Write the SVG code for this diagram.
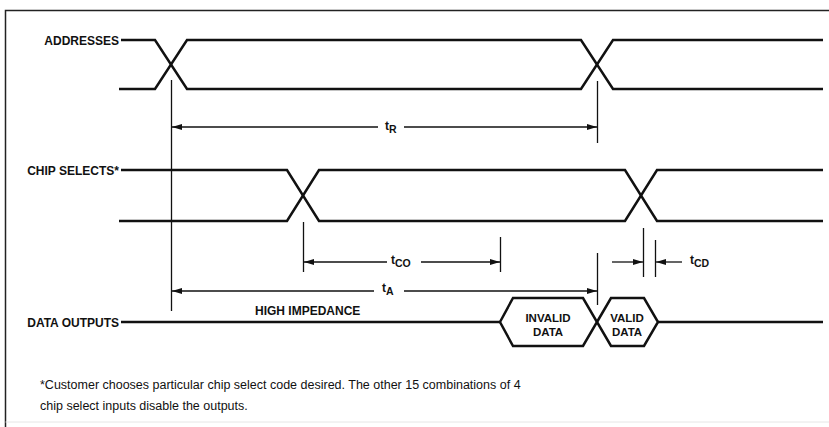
<svg xmlns="http://www.w3.org/2000/svg" width="829" height="427" viewBox="0 0 829 427">
<style>
.sig{fill:none;stroke:#111;stroke-width:2.5;stroke-linejoin:miter}
.dim{fill:none;stroke:#111;stroke-width:1.3}
.lbl{font-family:"Liberation Sans",Arial,sans-serif;font-weight:bold;font-size:12px;fill:#111}
.hx{font-family:"Liberation Sans",Arial,sans-serif;font-weight:bold;font-size:11.5px;fill:#111}
.t{font-family:"Liberation Sans",Arial,sans-serif;font-weight:bold;font-size:12px;fill:#111}
.sub{font-size:10.5px}
.note{font-family:"Liberation Sans",Arial,sans-serif;font-size:12.5px;fill:#111}
</style>
<defs>
<marker id="ah" viewBox="0 0 10 6" refX="10" refY="3" markerWidth="10" markerHeight="6" markerUnits="userSpaceOnUse" orient="auto-start-reverse">
<path d="M0,0 L10,3 L0,6 Z" fill="#111"/>
</marker>
</defs>
<rect width="829" height="427" fill="#fff"/>
<g id="frame">
<path d="M829,10.5 H5.5 V427" fill="none" stroke="#222" stroke-width="1.5"/>
<path d="M5.5,422 H829" fill="none" stroke="#e6e6e6" stroke-width="1"/>
</g>
<g id="addresses">
<text class="lbl" x="119" y="44.5" text-anchor="end">ADDRESSES</text>
<path class="sig" d="M121,40 H155 L187,89 H581 L613,40 H823"/>
<path class="sig" d="M119,89 H155 L187,40 H581 L613,89 H823"/>
</g>
<g id="chip-selects">
<text class="lbl" x="119" y="174.5" text-anchor="end">CHIP SELECTS*</text>
<path class="sig" d="M121,170 H287 L319,221 H625 L657,170 H823"/>
<path class="sig" d="M119,221 H287 L319,170 H625 L657,221 H823"/>
</g>
<g id="data-outputs">
<text class="lbl" x="119" y="326.5" text-anchor="end">DATA OUTPUTS</text>
<path class="sig" d="M121,322 H500"/>
<path class="sig" d="M500,322 L513,298 H583 L597,322 L583,346 H513 Z"/>
<path class="sig" d="M597,322 L611,298 H644 L658,322 L644,346 H611 Z"/>
<path class="sig" d="M658,322 H823"/>
<text class="hx" x="548" y="321.5" text-anchor="middle">INVALID</text>
<text class="hx" x="548" y="335.5" text-anchor="middle">DATA</text>
<text class="hx" x="627" y="321.5" text-anchor="middle">VALID</text>
<text class="hx" x="627" y="335.5" text-anchor="middle">DATA</text>
<text class="lbl" x="255" y="314.5">HIGH IMPEDANCE</text>
</g>
<g id="connectors">
<path class="dim" d="M171.5,80 V311"/>
<path class="dim" d="M597.5,81 V143"/>
<path class="dim" d="M303.5,222 V272"/>
<path class="dim" d="M500.5,237 V272"/>
<path class="dim" d="M597.5,253 V305"/>
<path class="dim" d="M643.5,228 V277"/>
<path class="dim" d="M655.5,240 V277"/>
<path class="dim" d="M378,127 H172" marker-end="url(#ah)"/>
<path class="dim" d="M404,127 H597" marker-end="url(#ah)"/>
<path class="dim" d="M387,262 H304" marker-end="url(#ah)"/>
<path class="dim" d="M421,262 H500" marker-end="url(#ah)"/>
<path class="dim" d="M374,291 H172" marker-end="url(#ah)"/>
<path class="dim" d="M404,291 H597" marker-end="url(#ah)"/>
<path class="dim" d="M612,262 H643" marker-end="url(#ah)"/>
<path class="dim" d="M682,262 H656" marker-end="url(#ah)"/>
</g>
<g id="labels">
<text class="t" x="385" y="130">t<tspan class="sub" dy="3">R</tspan></text>
<text class="t" x="391" y="264">t<tspan class="sub" dy="3">CO</tspan></text>
<text class="t" x="382" y="292">t<tspan class="sub" dy="3">A</tspan></text>
<text class="t" x="690" y="264">t<tspan class="sub" dy="3">CD</tspan></text>
</g>
<g id="footnote">
<text class="note" x="40" y="389">*Customer chooses particular chip select code desired. The other 15 combinations of 4</text>
<text class="note" x="40" y="410">chip select inputs disable the outputs.</text>
</g>
</svg>
